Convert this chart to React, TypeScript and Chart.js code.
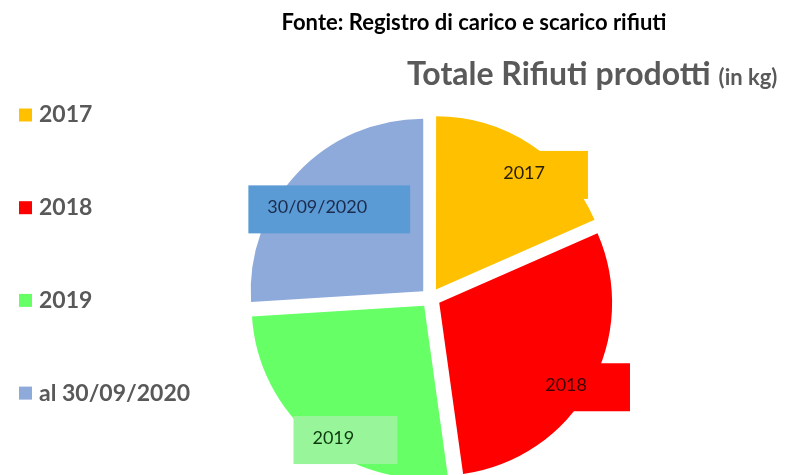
import React, { useEffect, useRef } from "react";
import { Chart, registerables } from "chart.js";

Chart.register(...registerables);

// ---- data ----
const categories = ["2017", "2018", "2019", "al 30/09/2020"];
const sliceLabels = ["2017", "2018", "2019", "30/09/2020"];
const wasteShare = [18.4, 29.4, 26.2, 26.0];
const sourceText = "Fonte: Registro di carico e scarico rifiuti";
const titleMain = "Totale Rifiuti prodotti";
const titleUnit = "(in kg)";

// ---- styles / layout ----
const sliceColors = ["#ffc000", "#ff0000", "#66ff66", "#8eaadb"];
const labelBoxColors = ["#ffc000", "#ff0000", "#99f599", "#5b9bd5"];
const labelTextColors = ["#2a2000", "#3d0000", "#0f3a0f", "#1b2b4d"];
const labelRadial = [0.94, 1.0, 0.96, 0.78];
const labelAngleShift = [7.5, 2, -8.3, -2];
const FONT = "Lato, 'Open Sans', sans-serif";

const headerPlugin = {
  id: "headerText",
  afterDraw(chart: any) {
    const ctx = chart.ctx;
    ctx.save();
    ctx.textBaseline = "alphabetic";
    ctx.fillStyle = "#000000";
    ctx.font = `bold 22px ${FONT}`;
    ctx.textAlign = "center";
    ctx.fillText(sourceText, 474, 30);
    ctx.textAlign = "left";
    ctx.fillStyle = "#595959";
    ctx.font = `bold 32px ${FONT}`;
    ctx.fillText(titleMain, 407, 85);
    const w = ctx.measureText(titleMain).width;
    ctx.font = `bold 22px ${FONT}`;
    ctx.fillText(titleUnit, 407 + w + 8, 85);
    ctx.restore();
  },
};

const legendPlugin = {
  id: "sideLegend",
  afterDraw(chart: any) {
    const ctx = chart.ctx;
    const labels = chart.data.labels as string[];
    const colors = chart.data.datasets[0].backgroundColor as string[];
    ctx.save();
    ctx.textBaseline = "middle";
    ctx.textAlign = "left";
    ctx.font = `bold 23px ${FONT}`;
    labels.forEach((lab, i) => {
      const cy = 115 + i * 92.7;
      ctx.fillStyle = colors[i];
      ctx.fillRect(19, cy - 6.5, 13, 13);
      ctx.fillStyle = "#595959";
      ctx.fillText(lab, 39, cy);
    });
    ctx.restore();
  },
};

const sliceLabelPlugin = {
  id: "sliceLabels",
  afterDatasetsDraw(chart: any) {
    const meta = chart.getDatasetMeta(0);
    const ctx = chart.ctx;
    ctx.save();
    ctx.font = `18px ${FONT}`;
    ctx.textBaseline = "middle";
    ctx.textAlign = "left";
    meta.data.forEach((arc: any, i: number) => {
      const { x, y, startAngle, endAngle, outerRadius } = arc.getProps(
        ["x", "y", "startAngle", "endAngle", "outerRadius"],
        true
      );
      const mid = (startAngle + endAngle) / 2 + (labelAngleShift[i] * Math.PI) / 180;
      const r = outerRadius * labelRadial[i];
      const cx = x + Math.cos(mid) * r;
      const cy = y + Math.sin(mid) * r;
      const tw = ctx.measureText(sliceLabels[i]).width;
      const w = tw + 19 + 43;
      const h = 48;
      ctx.fillStyle = labelBoxColors[i];
      ctx.fillRect(cx - w / 2, cy - h / 2, w, h);
      ctx.fillStyle = labelTextColors[i];
      ctx.fillText(sliceLabels[i], cx - w / 2 + 19, cy - 2);
    });
    ctx.restore();
  },
};

export default function App() {
  const ref = useRef<HTMLCanvasElement | null>(null);
  useEffect(() => {
    if (!ref.current) return;
    const chart = new Chart(ref.current, {
      type: "pie",
      data: {
        labels: categories,
        datasets: [
          {
            data: wasteShare,
            backgroundColor: sliceColors,
            borderWidth: 0,
            offset: 40,
            hoverOffset: 0,
            radius: 172.5,
            clip: false,
          } as any,
        ],
      },
      options: {
        animation: false,
        responsive: true,
        maintainAspectRatio: false,
        layout: { padding: { left: 74, right: 0, top: 121, bottom: 0 } },
        plugins: {
          legend: { display: false },
          tooltip: { enabled: false },
          title: { display: false },
        },
      },
      plugins: [sliceLabelPlugin, legendPlugin, headerPlugin],
    });
    return () => chart.destroy();
  }, []);
  return (
    <div
      style={{
        position: "absolute",
        left: 0,
        top: 0,
        width: 787,
        height: 475,
        background: "#ffffff",
      }}
    >
      <canvas ref={ref} />
    </div>
  );
}
